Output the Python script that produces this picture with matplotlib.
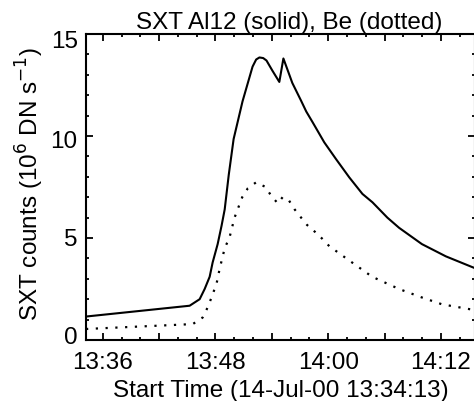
import matplotlib
matplotlib.use("Agg")
import matplotlib.pyplot as plt
import matplotlib.transforms as mtransforms
import numpy as np
import pandas as pd
from matplotlib.ticker import FixedLocator, MultipleLocator, FuncFormatter

plt.rcParams['font.family'] = ['Liberation Sans', 'DejaVu Sans']

start_time = "13:34:13"
end_time = "14:15:38"

al12_times = ["13:34:13", "13:45:15", "13:46:19", "13:46:51", "13:47:23", "13:47:42",
              "13:48:14", "13:48:39", "13:48:59", "13:49:25", "13:49:56", "13:50:53",
              "13:51:57", "13:52:20", "13:52:41", "13:53:05", "13:53:26", "13:54:04",
              "13:54:48", "13:55:14", "13:56:11", "13:57:07", "13:57:40", "13:58:21",
              "13:59:35", "14:00:50", "14:02:15", "14:03:39", "14:04:43", "14:06:18",
              "14:07:33", "14:09:59", "14:12:32", "14:15:12", "14:15:38"]
al12_counts = [1.15, 1.68, 2.0, 2.5, 3.1, 3.8,
               4.7, 5.6, 6.4, 8.1, 9.85, 11.7,
               13.4, 13.75, 13.85, 13.82, 13.7, 13.2,
               12.65, 13.8, 12.6, 11.73, 11.2, 10.67,
               9.69, 8.87, 7.97, 7.16, 6.75, 6.0,
               5.5, 4.7, 4.1, 3.6, 3.52]

be_times = ["13:34:13", "13:45:35", "13:46:38", "13:47:04", "13:47:36", "13:48:08",
            "13:48:27", "13:48:59", "13:49:30", "13:50:02", "13:50:51", "13:51:27",
            "13:52:20", "13:53:20", "13:53:56", "13:54:38", "13:55:09", "13:55:48",
            "13:56:24", "13:57:07", "13:57:45", "13:58:36", "13:59:20", "14:00:07",
            "14:01:56", "14:04:41", "14:07:33", "14:09:53", "14:12:07", "14:15:12",
            "14:15:38"]
be_counts = [0.54, 0.78, 1.1, 1.5, 2.1, 2.8,
             3.5, 4.5, 5.03, 6.0, 7.0, 7.44,
             7.73, 7.5, 7.07, 6.7, 7.0, 6.86,
             6.42, 6.0, 5.64, 5.3, 4.98, 4.6,
             4.0, 3.1, 2.5, 2.1, 1.75, 1.5,
             1.48]

tick_times = ["13:36", "13:42", "13:48", "13:54", "14:00", "14:06", "14:12"]
tick_labels = ["13:36", "", "13:48", "", "14:00", "", "14:12"]


def to_minutes(times):
    # minutes since midnight
    td = pd.to_timedelta([t if t.count(":") == 2 else t + ":00" for t in times])
    return td.total_seconds().to_numpy() / 60.0


t0 = to_minutes([start_time])[0]
t1 = to_minutes([end_time])[0]

fs = 17.5

fig = plt.figure(figsize=(4.74, 4.02), dpi=100)
ax = fig.add_axes([86 / 474, 61 / 402, (475 - 86) / 474, 306 / 402])

ax.plot(to_minutes(al12_times), al12_counts, color="black", linewidth=1.5)
ax.plot(to_minutes(be_times), be_counts, color="black", linewidth=1.6,
        linestyle=(0, (1, 3.4)))

ax.set_xlim(t0, t1)
ax.set_ylim(0, 15)

ax.xaxis.set_major_locator(FixedLocator(to_minutes(tick_times)))
ax.xaxis.set_major_formatter(FuncFormatter(
    lambda v, p: tick_labels[p] if p is not None and p < len(tick_labels) else ""))
ax.xaxis.set_minor_locator(MultipleLocator(2))
ax.yaxis.set_major_locator(MultipleLocator(5))
ax.yaxis.set_minor_locator(MultipleLocator(1))

ax.tick_params(which="both", direction="in", top=True, right=True, labelsize=fs,
               width=1.3, color="black")
ax.tick_params(which="major", length=5)
ax.tick_params(which="minor", length=2.5)
ax.tick_params(axis="x", pad=8)
ax.tick_params(axis="y", pad=6)
for s in ax.spines.values():
    s.set_linewidth(1.5)

# nudge y tick labels (pixels, up positive) the way IDL laid them out
fig.canvas.draw()
y_nudge = {0: 5, 5: 1, 10: -3, 15: -4}
for lbl in ax.get_yticklabels():
    try:
        val = int(round(float(lbl.get_text())))
    except ValueError:
        continue
    dy = y_nudge.get(val, 0)
    shift = mtransforms.ScaledTranslation(0, dy / 100, fig.dpi_scale_trans)
    lbl.set_transform(lbl.get_transform() + shift)

ax.set_xlabel("Start Time (14-Jul-00 13:34:13)", fontsize=fs, labelpad=4)
ax.set_ylabel("SXT counts (10$^{6}$ DN s$^{-1}$)", fontsize=fs)
ax.yaxis.set_label_coords(-0.104, 0.513)
fig.text(289 / 474, 1 - 23 / 402, "SXT Al12 (solid), Be (dotted)", fontsize=fs,
         ha="center", va="center")

fig.savefig("out.png", dpi=100)
